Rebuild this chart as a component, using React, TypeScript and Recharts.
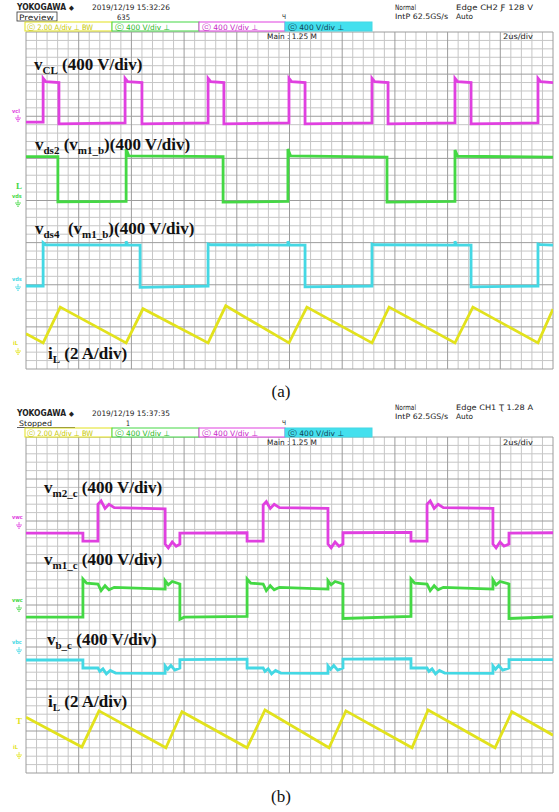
import React from 'react';
import { Line, LineChart, ReferenceLine, XAxis, YAxis } from 'recharts';

// time in us (2 us/div, 10 div) and level in screen divisions (0 = bottom, 8 = top)
const timeMajor = [0, 2, 4, 6, 8, 10, 12, 14, 16, 18, 20];
const levelMajor = [0, 1, 2, 3, 4, 5, 6, 7, 8];
// 5 sub-divisions per division, majors left out
const timeMinor = Array.from({ length: 51 }, (_, i) => i).filter((i) => i % 5 !== 0).map((i) => i * 0.4);
const levelMinor = Array.from({ length: 41 }, (_, i) => i).filter((i) => i % 5 !== 0).map((i) => i * 0.2);

type Pair = [number, number];

// (a)
const vclA: Pair[] = [
  [0, 5.86], [0.65, 5.86], [0.65, 6.9], [0.75, 6.82], [1.25, 6.8], [1.25, 5.82],
  [3.76, 5.84], [3.76, 6.9], [3.86, 6.82], [4.4, 6.8], [4.4, 5.82],
  [6.91, 5.84], [6.91, 6.9], [7.01, 6.82], [7.51, 6.8], [7.51, 5.82],
  [9.98, 5.84], [9.98, 6.9], [10.08, 6.82], [10.59, 6.8], [10.59, 5.82],
  [13.13, 5.84], [13.13, 6.9], [13.23, 6.82], [13.74, 6.8], [13.74, 5.82],
  [16.28, 5.84], [16.28, 6.9], [16.38, 6.82], [16.89, 6.8], [16.89, 5.82],
  [19.43, 5.84], [19.43, 6.9], [19.53, 6.82], [20, 6.8],
];
const vds2A: Pair[] = [
  [0, 5.04], [1.21, 5.04], [1.21, 3.97], [3.8, 3.98], [3.8, 5.22], [3.9, 5.06],
  [7.48, 5.04], [7.48, 3.96], [9.94, 3.98], [9.94, 5.22], [10.04, 5.06],
  [13.7, 5.03], [13.7, 3.96], [16.28, 3.98], [16.28, 5.2], [16.38, 5.05], [20, 5.03],
];
const vds4A: Pair[] = [
  [0, 1.97], [0.65, 1.97], [0.65, 3.0], [0.75, 2.95], [3.8, 2.94], [3.8, 3.03], [3.86, 2.94],
  [4.33, 2.94], [4.33, 1.94], [6.91, 1.97], [6.91, 2.97], [7.01, 2.95], [9.94, 2.94],
  [9.94, 3.03], [10.0, 2.94], [10.59, 2.94], [10.59, 1.95], [13.13, 1.97], [13.13, 2.97],
  [13.23, 2.95], [16.28, 2.94], [16.28, 3.03], [16.34, 2.94], [16.89, 2.94], [16.89, 1.95],
  [19.43, 1.97], [19.43, 2.97], [19.53, 2.95], [20, 2.94],
];
const iLA: Pair[] = [
  [0, 0.84], [0.65, 0.62], [1.3, 1.47], [3.8, 0.62], [4.44, 1.43], [6.91, 0.62],
  [7.58, 1.5], [9.98, 0.62], [10.66, 1.47], [13.13, 0.62], [13.78, 1.47],
  [16.28, 0.62], [16.96, 1.47], [19.43, 0.62], [20, 1.42],
];

// (b)
const vm2C: Pair[] = [
  [0, 5.71], [2.16, 5.71], [2.16, 5.52], [2.73, 5.52], [2.73, 6.4], [2.85, 6.48], [3.0, 6.3],
  [3.15, 6.4], [3.35, 6.32], [5.28, 6.29], [5.28, 5.45], [5.4, 5.36], [5.55, 5.5], [5.7, 5.4],
  [5.84, 5.45], [5.84, 5.71], [8.39, 5.72], [8.39, 5.52], [9.0, 5.52], [9.0, 6.38],
  [9.12, 6.46], [9.27, 6.3], [9.42, 6.4], [9.62, 6.32], [11.46, 6.3], [11.46, 5.45],
  [11.58, 5.36], [11.73, 5.5], [11.88, 5.4], [12.03, 5.45], [12.03, 5.72], [14.61, 5.73],
  [14.61, 5.52], [15.22, 5.52], [15.22, 6.4], [15.34, 6.48], [15.49, 6.3], [15.64, 6.4],
  [15.84, 6.32], [17.72, 6.3], [17.72, 5.45], [17.84, 5.36], [17.99, 5.5], [18.14, 5.4],
  [18.33, 5.45], [18.33, 5.71], [20, 5.72],
];
const vm1C: Pair[] = [
  [0, 3.71], [2.16, 3.71], [2.16, 4.62], [2.3, 4.52], [2.73, 4.5], [2.85, 4.34], [3.0, 4.46],
  [3.15, 4.36], [3.35, 4.42], [5.28, 4.38], [5.28, 4.58], [5.4, 4.48], [5.55, 4.56],
  [5.84, 4.5], [5.84, 3.66], [6.0, 3.71], [8.39, 3.73], [8.39, 4.62], [8.53, 4.52],
  [9.0, 4.5], [9.12, 4.34], [9.27, 4.46], [9.42, 4.36], [9.62, 4.42], [11.46, 4.38],
  [11.46, 4.58], [11.58, 4.48], [11.73, 4.56], [12.03, 4.5], [12.03, 3.68], [14.61, 3.73],
  [14.61, 4.62], [14.75, 4.52], [15.22, 4.5], [15.34, 4.34], [15.49, 4.46], [15.64, 4.36],
  [15.84, 4.42], [17.72, 4.38], [17.72, 4.6], [17.84, 4.48], [17.99, 4.56], [18.33, 4.5],
  [18.33, 3.68], [20, 3.72],
];
const vbC: Pair[] = [
  [0, 2.69], [2.16, 2.69], [2.16, 2.5], [2.73, 2.5], [2.8, 2.42], [2.92, 2.48], [3.05, 2.36],
  [3.2, 2.44], [3.4, 2.38], [5.28, 2.37], [5.28, 2.55], [5.38, 2.47], [5.5, 2.56],
  [5.65, 2.45], [5.84, 2.5], [5.84, 2.7], [8.39, 2.71], [8.39, 2.5], [9.0, 2.5], [9.07, 2.42],
  [9.19, 2.48], [9.32, 2.36], [9.47, 2.44], [9.67, 2.38], [11.46, 2.37], [11.46, 2.55],
  [11.56, 2.47], [11.68, 2.56], [11.83, 2.45], [12.03, 2.5], [12.03, 2.71], [14.61, 2.72],
  [14.61, 2.5], [15.22, 2.5], [15.29, 2.42], [15.41, 2.48], [15.54, 2.36], [15.69, 2.44],
  [15.89, 2.38], [17.72, 2.37], [17.72, 2.55], [17.82, 2.47], [17.94, 2.56], [18.09, 2.45],
  [18.33, 2.5], [18.33, 2.7], [20, 2.7],
];
const iLB: Pair[] = [
  [0, 1.33], [2.12, 0.62], [2.77, 1.48], [5.31, 0.6], [5.92, 1.46], [8.39, 0.6],
  [9.07, 1.5], [11.5, 0.6], [12.14, 1.48], [14.65, 0.6], [15.26, 1.5], [17.8, 0.6],
  [18.44, 1.46], [20, 0.9],
];

const MAGENTA = '#e040e0';
const GREEN = '#44d844';
const CYAN = '#44d8e4';
const YELLOW = '#e2e21c';

const toRows = (pairs: Pair[]) => pairs.map(([t, v]) => ({ t, v }));

type Trace = { name: string; color: string; data: Pair[] };

function Scope({ traces, top, height, marginTop, marginBottom }: {
  traces: Trace[]; top: number; height: number; marginTop: number; marginBottom: number;
}) {
  return (
    <div style={{ position: 'absolute', left: 0, top }}>
      <LineChart
        width={559}
        height={height}
        margin={{ top: marginTop, right: 6, bottom: marginBottom, left: 26 }}
      >
        <XAxis type="number" dataKey="t" domain={[0, 20]} hide allowDataOverflow />
        <YAxis type="number" domain={[0, 8]} hide allowDataOverflow />
        {timeMinor.map((t, i) => (
          <ReferenceLine key={`mx${i}`} x={t} stroke="#c6c6c6" strokeWidth={1} ifOverflow="visible" />
        ))}
        {levelMinor.map((v, i) => (
          <ReferenceLine key={`my${i}`} y={v} stroke="#c6c6c6" strokeWidth={1} ifOverflow="visible" />
        ))}
        {timeMajor.map((t) => (
          <ReferenceLine key={`x${t}`} x={t} stroke="#9c9c9c" strokeWidth={1} />
        ))}
        {levelMajor.map((v) => (
          <ReferenceLine key={`y${v}`} y={v} stroke="#9c9c9c" strokeWidth={1} />
        ))}
        {traces.map((tr) => (
          <Line
            key={tr.name}
            name={tr.name}
            data={toRows(tr.data)}
            dataKey="v"
            type="linear"
            stroke={tr.color}
            strokeWidth={2.8}
            dot={false}
            isAnimationActive={false}
          />
        ))}
      </LineChart>
    </div>
  );
}

type Part = [string, boolean];

function BigLabel({ x, y, parts }: { x: number; y: number; parts: Part[] }) {
  let shift = 0;
  return (
    <text
      x={x}
      y={y}
      fontFamily="'Liberation Serif', 'Times New Roman', serif"
      fontWeight="bold"
      fontSize={17}
      fill="#111"
      style={{ whiteSpace: 'pre' }}
    >
      {parts.map(([s, sub], i) => {
        const target = sub ? 4 : 0;
        const dy = target - shift;
        shift = target;
        return (
          <tspan key={i} dy={dy} fontSize={sub ? 11 : 17}>
            {s}
          </tspan>
        );
      })}
    </text>
  );
}

const HF = "'DejaVu Sans Condensed', 'DejaVu Sans', sans-serif";

function T({ x, y, w, children, size = 7.5, fill = '#222', weight = 'normal' }: {
  x: number; y: number; w?: number; children: React.ReactNode; size?: number; fill?: string; weight?: string;
}) {
  return (
    <text
      x={x}
      y={y}
      fontFamily={HF}
      fontSize={size}
      fill={fill}
      fontWeight={weight}
      textLength={w}
      lengthAdjust={w ? 'spacingAndGlyphs' : undefined}
    >
      {children}
    </text>
  );
}

function Ground({ x, y, color }: { x: number; y: number; color: string }) {
  return (
    <path
      d={`M${x} ${y - 3}V${y}M${x - 3} ${y}H${x + 3}M${x - 2} ${y + 1.6}H${x + 2}M${x - 1} ${y + 3.2}H${x + 1}`}
      stroke={color}
      strokeWidth={0.8}
      fill="none"
    />
  );
}

function Header({ leftY, statusY, rightY, boxTop, date, status, boxed, count, edge }: {
  leftY: number; statusY: number; rightY: number; boxTop: number;
  date: string; status: string; boxed: boolean; count: string; edge: string;
}) {
  return (
    <g>
      <T x={17} y={leftY} w={49} size={8} weight="bold">YOKOGAWA</T>
      <T x={69} y={leftY} size={7}>◆</T>
      <T x={92} y={leftY} w={78}>{date}</T>
      {boxed ? (
        <rect x={17} y={statusY - 7.5} width={40} height={9} fill="none" stroke="#333" strokeWidth={0.8} />
      ) : (
        <line x1={17} x2={75} y1={statusY + 2} y2={statusY + 2} stroke="#333" strokeWidth={0.8} />
      )}
      <T x={19} y={statusY} w={boxed ? 35 : 33}>{status}</T>
      <T x={count.length > 1 ? 117 : 126} y={statusY + 0.5} w={count.length > 1 ? 13 : 4}>{count}</T>
      <T x={282} y={statusY - 1} size={6.5}>Ч</T>
      <T x={395} y={rightY} w={21}>Normal</T>
      <T x={395} y={rightY + 9} w={53}>IntP 62.5GS/s</T>
      <T x={456} y={rightY} w={edge.length > 15 ? 77 : 74}>{edge}</T>
      <T x={456} y={rightY + 9} w={17}>Auto</T>
      <rect x={25} y={boxTop} width={87} height={9} fill="#fff" stroke="#e2e21c" strokeWidth={1} />
      <rect x={112} y={boxTop} width={87} height={9} fill="#fff" stroke="#44d844" strokeWidth={1} />
      <rect x={199} y={boxTop} width={86} height={9} fill="#fff" stroke="#e040e0" strokeWidth={1} />
      <rect x={285} y={boxTop} width={87} height={9} fill="#44e0ee" stroke="#44d8e4" strokeWidth={1} />
      <T x={27} y={boxTop + 7.5} w={66} fill="#c8c800">ⓒ 2.00 A/div ⊥ BW</T>
      <T x={115} y={boxTop + 7.5} w={55} fill="#28b828">ⓒ 400 V/div ⊥</T>
      <T x={202} y={boxTop + 7.5} w={56} fill="#c828c8">ⓒ 400 V/div ⊥</T>
      <T x={288} y={boxTop + 7.5} w={56} fill="#114455">ⓒ 400 V/div ⊥</T>
      <T x={267} y={boxTop + 17} w={50}>Main : 1.25 M</T>
      <T x={503} y={boxTop + 17} w={30}>2us/div</T>
    </g>
  );
}

function Overlay() {
  const small = { fontFamily: HF, fontSize: 5.5, fontWeight: 'bold' as const };
  return (
    <svg
      width={559}
      height={812}
      style={{ position: 'absolute', left: 0, top: 0, pointerEvents: 'none' }}
    >
      <Header leftY={10} statusY={19.5} rightY={10} boxTop={22} date="2019/12/19 15:32:26" status="Preview" boxed count="635" edge="Edge CH2 Ƒ 128 V" />
      <Header leftY={416} statusY={425.5} rightY={410} boxTop={428} date="2019/12/19 15:37:35" status="Stopped" boxed={false} count="1" edge="Edge CH1 Ʈ 1.28 A" />

      <BigLabel x={34} y={70} parts={[['v', false], ['CL', true], [' (400 V/div)', false]]} />
      <BigLabel x={35} y={150} parts={[['v', false], ['ds2', true], [' (v', false], ['m1_b', true], [')(400 V/div)', false]]} />
      <BigLabel x={35} y={234} parts={[['v', false], ['ds4', true], ['  (v', false], ['m1_b', true], [')(400 V/div)', false]]} />
      <BigLabel x={48} y={359} parts={[['i', false], ['L', true], [' (2 A/div)', false]]} />

      <BigLabel x={44} y={493} parts={[['v', false], ['m2_c', true], [' (400 V/div)', false]]} />
      <BigLabel x={44} y={565} parts={[['v', false], ['m1_c', true], [' (400 V/div)', false]]} />
      <BigLabel x={47} y={645} parts={[['v', false], ['b_c', true], [' (400 V/div)', false]]} />
      <BigLabel x={48} y={707} parts={[['i', false], ['L', true], [' (2 A/div)', false]]} />

      <text x={281} y={397} textAnchor="middle" fontFamily="'Liberation Serif', 'Times New Roman', serif" fontSize={17} fill="#111">(a)</text>
      <text x={281} y={802} textAnchor="middle" fontFamily="'Liberation Serif', 'Times New Roman', serif" fontSize={17} fill="#111">(b)</text>

      <text x={12} y={113} fill={MAGENTA} {...small}>vcl</text>
      <Ground x={18} y={118} color={MAGENTA} />
      <text x={16} y={189} fill={GREEN} fontFamily="'Liberation Serif', serif" fontSize={9} fontWeight="bold">L</text>
      <text x={12} y={198} fill={GREEN} {...small}>vds</text>
      <Ground x={18} y={203} color={GREEN} />
      <text x={12} y={281} fill={CYAN} {...small}>vds</text>
      <Ground x={18} y={287} color={CYAN} />
      <text x={13} y={345} fill={YELLOW} {...small}>iL</text>
      <Ground x={18} y={351} color={YELLOW} />

      <text x={12} y={519} fill={MAGENTA} {...small}>vwc</text>
      <Ground x={19} y={525} color={MAGENTA} />
      <text x={12} y={602} fill={GREEN} {...small}>vwc</text>
      <Ground x={19} y={608} color={GREEN} />
      <text x={12} y={644} fill={CYAN} {...small}>vbc</text>
      <Ground x={19} y={650} color={CYAN} />
      <text x={16} y={724} fill={YELLOW} fontFamily="'Liberation Serif', serif" fontSize={9} fontWeight="bold">T</text>
      <text x={13} y={749} fill={YELLOW} {...small}>iL</text>
      <Ground x={19} y={755} color={YELLOW} />
    </svg>
  );
}

const tracesA: Trace[] = [
  { name: 'vCL', color: MAGENTA, data: vclA },
  { name: 'vds2', color: GREEN, data: vds2A },
  { name: 'vds4', color: CYAN, data: vds4A },
  { name: 'iL', color: YELLOW, data: iLA },
];
const tracesB: Trace[] = [
  { name: 'vm2_c', color: MAGENTA, data: vm2C },
  { name: 'vm1_c', color: GREEN, data: vm1C },
  { name: 'vb_c', color: CYAN, data: vbC },
  { name: 'iL', color: YELLOW, data: iLB },
];

export default function App() {
  return (
    <div style={{ position: 'absolute', left: 0, top: 0, width: 559, height: 812, background: '#fff' }}>
      <Scope traces={tracesA} top={0} height={380} marginTop={32} marginBottom={11} />
      <Scope traces={tracesB} top={400} height={385} marginTop={37} marginBottom={12} />
      <Overlay />
    </div>
  );
}
